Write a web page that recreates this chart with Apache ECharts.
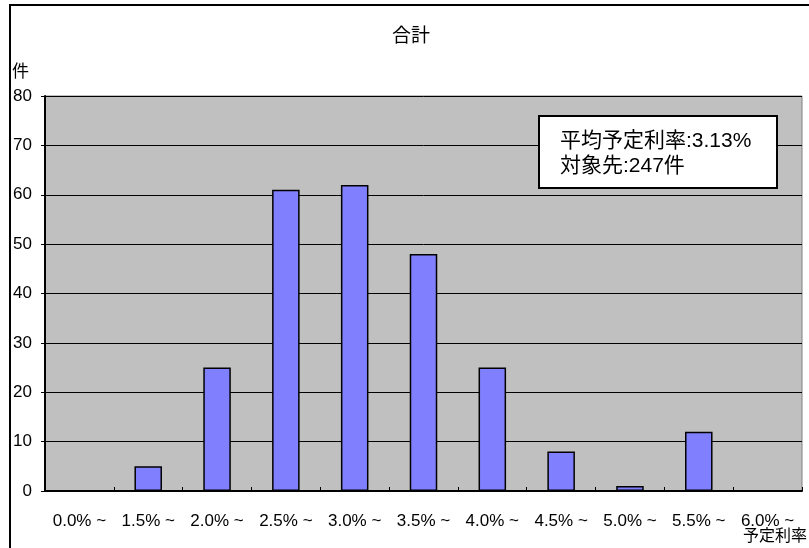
<!DOCTYPE html>
<html><head><meta charset="utf-8">
<script src="https://cdn.jsdelivr.net/npm/echarts@6/dist/echarts.min.js"></script>
<style>html,body{margin:0;padding:0;background:#fff}#c{width:809px;height:548px}</style>
</head><body><div id="c"></div>
<script>
const categories = ['0.0% ~','1.5% ~','2.0% ~','2.5% ~','3.0% ~','3.5% ~','4.0% ~','4.5% ~','5.0% ~','5.5% ~','6.0% ~'];
const counts = [0, 5, 25, 61, 62, 48, 25, 8, 1, 12, 0];
const title = '合計';
const yName = '件';
const xName = '予定利率';
const noteLines = ['平均予定利率:3.13%', '対象先:247件'];

const FONT = '"Liberation Sans", "Noto Sans CJK JP", sans-serif';
const chart = echarts.init(document.getElementById('c'), null, {renderer:'canvas'});
chart.setOption({
  animation:false,
  backgroundColor:'#fff',
  graphic:[
    {type:'rect',shape:{x:10,y:5,width:830,height:580},style:{fill:'none',stroke:'#000',lineWidth:2},z:100},
    {type:'text',x:411,y:37,style:{text:title,fontFamily:FONT,fontSize:19,fill:'#000',align:'center',verticalAlign:'middle'},z:100},
    {type:'text',x:12,y:72,style:{text:yName,fontFamily:FONT,fontSize:17,fill:'#000',verticalAlign:'middle'},z:100},
    {type:'text',x:743,y:537,style:{text:xName,fontFamily:FONT,fontSize:16,fill:'#000',verticalAlign:'middle'},z:100},
    {type:'rect',shape:{x:539,y:116,width:238,height:72},style:{fill:'#fff',stroke:'#000',lineWidth:2},z:100},
    {type:'text',x:560,y:129,style:{text:noteLines.join('\n'),fontFamily:FONT,fontSize:21,lineHeight:25,fill:'#000'},z:101}
  ],
  grid:{left:45,right:7,top:96,bottom:57,show:true,backgroundColor:'#c0c0c0',borderColor:'#808080',borderWidth:1},
  xAxis:{type:'category',data:categories,boundaryGap:true,
    axisLine:{lineStyle:{color:'#000',width:2}},
    axisTick:{show:true,inside:true,length:4,lineStyle:{color:'#000'}},
    axisLabel:{fontFamily:FONT,fontSize:17,color:'#000',margin:22,interval:0}},
  yAxis:{type:'value',min:0,max:80,interval:10,
    axisLine:{show:true,lineStyle:{color:'#000',width:2}},
    axisTick:{show:true,length:4,lineStyle:{color:'#000'}},
    axisLabel:{fontFamily:FONT,fontSize:17,color:'#000',margin:13},
    splitLine:{show:true,lineStyle:{color:'#000',width:1}}},
  series:[{type:'bar',data:counts,barWidth:'40%',
    itemStyle:{color:'#8080ff',borderColor:'#000',borderWidth:1.5}}]
});
</script></body></html>
